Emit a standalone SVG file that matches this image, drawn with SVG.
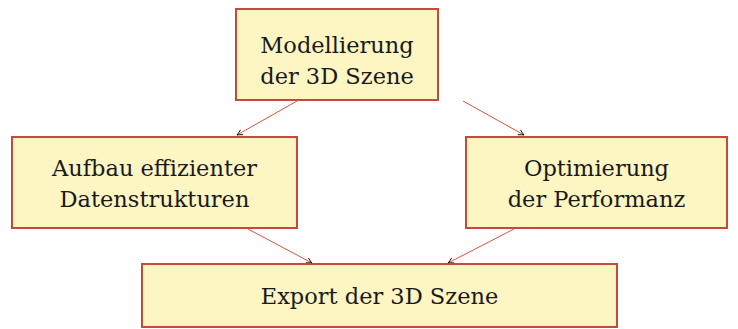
<svg xmlns="http://www.w3.org/2000/svg" width="738" height="329" viewBox="0 0 738 329">
<style>
.box{fill:#fdf6c3;stroke:#c8493a;stroke-width:2}
.t{font-family:'DejaVu Serif',serif;font-size:22.5px;fill:#1a1a1a;text-anchor:middle}
.c{stroke:#d9533f;stroke-width:1;fill:none;marker-end:url(#arr)}
</style>
<defs>
<marker id="arr" viewBox="0 0 10 10" refX="9" refY="5" markerWidth="7" markerHeight="7" orient="auto" markerUnits="userSpaceOnUse">
<path d="M1,1 Q6,4 9,5 Q6,6 1,9" fill="none" stroke="#000" stroke-width="1.2"/>
</marker>
</defs>
<g id="connectors">
<line class="c" x1="297" y1="101" x2="237" y2="135"/>
<line class="c" x1="463" y1="101" x2="524" y2="135"/>
<line class="c" x1="248" y1="229" x2="312" y2="263"/>
<line class="c" x1="514" y1="229" x2="448" y2="263"/>
</g>
<g id="n1"><rect class="box" x="236" y="9" width="202" height="91"/>
<text class="t" x="337" y="53">Modellierung</text><text class="t" x="337" y="84">der 3D Szene</text></g>
<g id="n2"><rect class="box" x="12" y="137" width="285" height="91"/>
<text class="t" x="154.5" y="176">Aufbau effizienter</text><text class="t" x="154.5" y="207">Datenstrukturen</text></g>
<g id="n3"><rect class="box" x="466" y="137" width="261" height="91"/>
<text class="t" x="596.5" y="176">Optimierung</text><text class="t" x="596.5" y="207">der Performanz</text></g>
<g id="n4"><rect class="box" x="142" y="264" width="475" height="63"/>
<text class="t" x="379.5" y="304">Export der 3D Szene</text></g>
</svg>
